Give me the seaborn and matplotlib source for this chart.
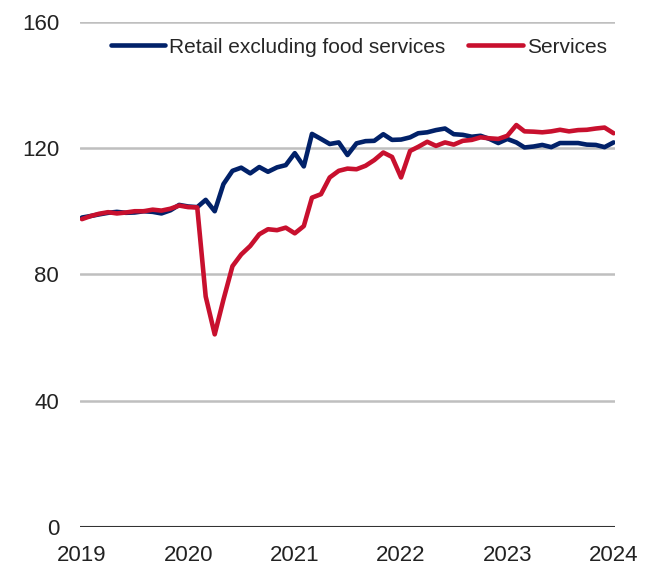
import numpy as np
import pandas as pd
import matplotlib
matplotlib.use('Agg')
import matplotlib.pyplot as plt
import matplotlib.dates as mdates
import seaborn as sns

# monthly index values, Jan 2019 - Jan 2024
months = pd.date_range('2019-01-01', '2024-01-01', freq='MS')

retail = [98.0, 98.5, 99.0, 99.5, 99.8, 99.5, 99.6, 100.0, 99.8, 99.3,
          100.3, 102.0, 101.5, 101.3, 103.6, 100.0, 108.6, 112.8, 113.8, 112.0,
          114.0, 112.5, 113.9, 114.6, 118.4, 114.2, 124.5, 122.9, 121.3, 121.8,
          117.8, 121.5, 122.2, 122.3, 124.4, 122.6, 122.7, 123.4, 124.7, 125.0,
          125.7, 126.2, 124.4, 124.2, 123.6, 123.9, 122.9, 121.6, 122.9, 121.8,
          120.2, 120.5, 121.0, 120.3, 121.6, 121.6, 121.6, 121.1, 121.0, 120.3,
          121.8]

services = [97.5, 98.5, 99.2, 99.7, 99.3, 99.6, 100.0, 100.0, 100.5, 100.2,
            100.8, 101.8, 101.3, 101.2, 73.0, 61.0, 72.0, 82.6, 86.3, 89.0,
            92.7, 94.3, 94.0, 94.8, 93.0, 95.3, 104.3, 105.4, 110.7, 112.8,
            113.5, 113.3, 114.4, 116.2, 118.6, 117.2, 110.7, 119.1, 120.4, 122.0,
            120.7, 121.8, 121.1, 122.3, 122.6, 123.4, 123.1, 122.9, 123.9, 127.3,
            125.3, 125.2, 125.0, 125.3, 125.8, 125.3, 125.7, 125.8, 126.2, 126.5,
            124.7]

series_names = ['Retail excluding food services', 'Services']
colors = ['#012169', '#C8102E']
y_ticks = [0, 40, 80, 120, 160]

df = pd.DataFrame({'date': months, series_names[0]: retail, series_names[1]: services})
long_df = df.melt(id_vars='date', var_name='series', value_name='value')

sns.set_style('white')
plt.rcParams['font.family'] = ['Liberation Sans', 'DejaVu Sans']

fig = plt.figure(figsize=(6.55, 5.74), dpi=100)
ax = fig.add_axes([0.122, 0.082, 0.817, 0.880])

for y in y_ticks[1:]:
    ax.axhline(y, color='#bfbfbf', linewidth=1.8, zorder=0)
ax.axhline(0, color='#333333', linewidth=1.5, zorder=1)

sns.lineplot(data=long_df, x='date', y='value', hue='series',
             hue_order=series_names, palette=colors, linewidth=3.3, ax=ax)

ax.set_ylim(0, 160)
ax.set_xlim(pd.Timestamp('2018-12-25'), pd.Timestamp('2024-01-06'))
ax.set_yticks(y_ticks)
ax.xaxis.set_major_locator(mdates.YearLocator())
ax.xaxis.set_major_formatter(mdates.DateFormatter('%Y'))
ax.tick_params(axis='both', length=0, labelsize=16, colors='#222222')
ax.tick_params(axis='y', pad=15)
ax.tick_params(axis='x', pad=13)
ax.set_xlabel('')
ax.set_ylabel('')
for s in ax.spines.values():
    s.set_visible(False)

ax.legend(loc='center left', bbox_to_anchor=(0.058, 0.95), ncol=2, frameon=False,
          fontsize=15, handlelength=2.6, handletextpad=0.2, columnspacing=1.1,
          borderaxespad=0, borderpad=0)

fig.savefig('out.png', dpi=100)
